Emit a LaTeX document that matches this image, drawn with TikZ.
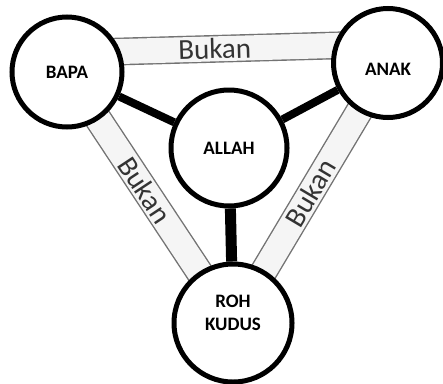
\documentclass[tikz,border=0pt]{standalone}
\usepackage{fontspec}
\setmainfont{Carlito}
\usetikzlibrary{backgrounds}

\begin{document}
\begin{tikzpicture}[x=1pt,y=-1pt,
    person node/.style={circle,draw,line width=5pt,fill=white,inner sep=0pt,align=center,font=\bfseries\fontsize{19}{23}\selectfont},
    tie/.style={line width=8pt},
    band/.style={line width=1.4pt,draw=black!55,double=black!4,double distance=25pt},
    bukan/.style={sloped,inner sep=0pt,text=black!80,font=\fontsize{29}{30}\selectfont}]
    \useasboundingbox (0,0) rectangle (443,383);

    \node[person node,minimum size=110pt] (BAPA) at (67,72) {BAPA};
    \node[person node,minimum size=109pt,text height=25pt] (ANAK) at (388,63) {ANAK};
    \node[person node,minimum size=116pt] (ALLAH) at (229,148) {ALLAH};
    \node[person node,minimum size=118pt,text depth=20pt] (ROH) at (233,323) {ROH\\KUDUS};

    \path[tie]
        (BAPA) edge (ALLAH)
        (ANAK) edge (ALLAH)
        (ALLAH) edge[line width=11pt] (ROH);

    \begin{pgfonlayer}{background}
        \draw[band] ([yshift=19pt]BAPA.center) -- ([yshift=19pt]ANAK.center)
            node[bukan,pos=0.46] {Bukan};
        \draw[band] (BAPA.center) -- (ROH.center) node[bukan,pos=0.47] {Bukan};
        \draw[band] (ANAK.center) -- (ROH.center) node[bukan,midway] {Bukan};
    \end{pgfonlayer}
\end{tikzpicture}
\end{document}
